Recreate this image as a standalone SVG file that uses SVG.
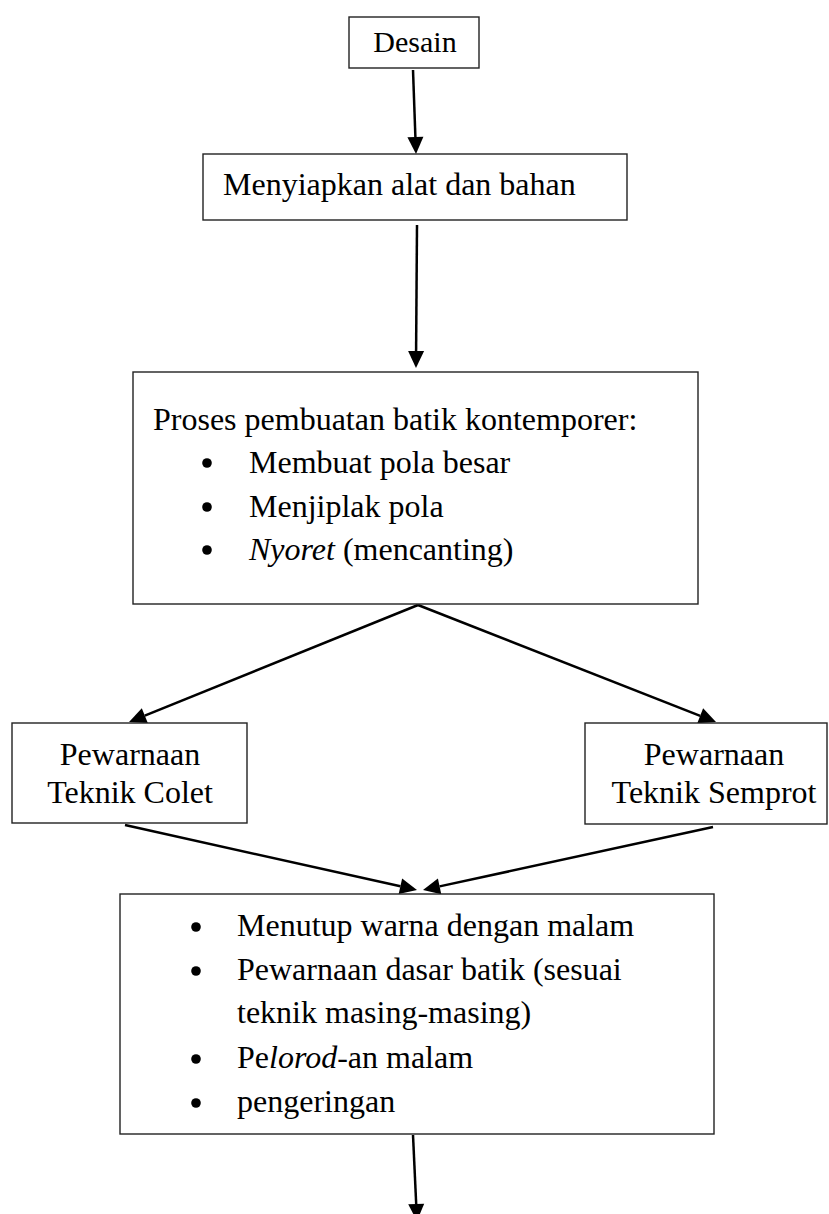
<svg xmlns="http://www.w3.org/2000/svg" width="829" height="1214" viewBox="0 0 829 1214">
<style>
.box{fill:#fff;stroke:#222;stroke-width:1.4}
.t{font-family:"Liberation Serif","Times New Roman",serif;font-size:32px;fill:#000}
.c{text-anchor:middle}
.conn{stroke:#000;stroke-width:2.5;fill:none}
</style>
<defs>
<marker id="ah" viewBox="0 -9 17 18" refX="0" refY="0" markerWidth="17" markerHeight="18" markerUnits="userSpaceOnUse" orient="auto" overflow="visible">
<path d="M0,-8 L17,0 L0,8 z" fill="#000"/>
</marker>
</defs>
<rect width="829" height="1214" fill="#fff"/>
<g id="connectors">
<line class="conn" x1="413" y1="70" x2="415.4" y2="137" marker-end="url(#ah)"/>
<line class="conn" x1="417" y1="225" x2="416.1" y2="351" marker-end="url(#ah)"/>
<line class="conn" x1="418" y1="605" x2="144.8" y2="715.6" marker-end="url(#ah)"/>
<line class="conn" x1="418" y1="605" x2="700.2" y2="715.8" marker-end="url(#ah)"/>
<line class="conn" x1="125" y1="825" x2="400.4" y2="886.3" marker-end="url(#ah)"/>
<line class="conn" x1="713" y1="827" x2="439.6" y2="886.4" marker-end="url(#ah)"/>
<line class="conn" x1="413" y1="1135" x2="416.2" y2="1204" marker-end="url(#ah)"/>
</g>
<g id="desain">
<rect class="box" x="349" y="17" width="130" height="51"/>
<text class="t c" x="415" y="52" style="font-size:30px">Desain</text>
</g>
<g id="menyiapkan">
<rect class="box" x="203" y="154" width="424" height="66"/>
<text class="t" x="223" y="195">Menyiapkan alat dan bahan</text>
</g>
<g id="proses">
<rect class="box" x="133" y="372" width="565" height="232"/>
<text class="t" x="153" y="430">Proses pembuatan batik kontemporer:</text>
<circle cx="207" cy="463" r="4.8"/>
<text class="t" x="249" y="473">Membuat pola besar</text>
<circle cx="207" cy="507" r="4.8"/>
<text class="t" x="249" y="517">Menjiplak pola</text>
<circle cx="207" cy="550" r="4.8"/>
<text class="t" x="249" y="560"><tspan font-style="italic">Nyoret</tspan> (mencanting)</text>
</g>
<g id="colet">
<rect class="box" x="12" y="723" width="235" height="100"/>
<text class="t c" x="130" y="765">Pewarnaan</text>
<text class="t c" x="130" y="803">Teknik Colet</text>
</g>
<g id="semprot">
<rect class="box" x="585" y="723" width="242" height="101"/>
<text class="t c" x="714" y="765">Pewarnaan</text>
<text class="t c" x="714" y="803">Teknik Semprot</text>
</g>
<g id="finishing">
<rect class="box" x="120" y="894" width="594" height="240"/>
<circle cx="196" cy="927" r="4.8"/>
<text class="t" x="237" y="936">Menutup warna dengan malam</text>
<circle cx="196" cy="971" r="4.8"/>
<text class="t" x="237" y="980">Pewarnaan dasar batik (sesuai</text>
<text class="t" x="237" y="1023">teknik masing-masing)</text>
<circle cx="196" cy="1059" r="4.8"/>
<text class="t" x="237" y="1068">Pe<tspan font-style="italic">lorod</tspan>-an malam</text>
<circle cx="196" cy="1103" r="4.8"/>
<text class="t" x="237" y="1112">pengeringan</text>
</g>
</svg>
